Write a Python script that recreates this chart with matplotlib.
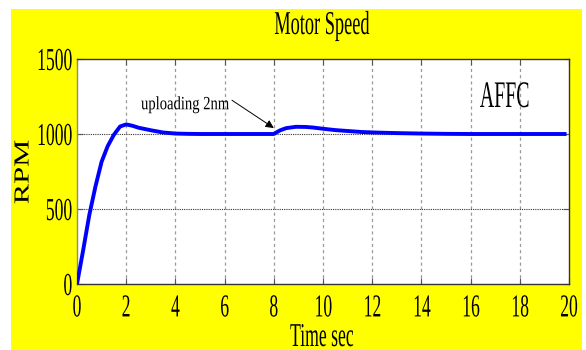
import matplotlib
matplotlib.use("Agg")
import matplotlib.pyplot as plt
from matplotlib import patheffects
from matplotlib.patches import Rectangle
from matplotlib.transforms import Affine2D

# Motor speed response (AFFC controller), load applied at t = 8 s
time_s = [0.0, 0.25, 0.5, 0.75, 1.0, 1.25, 1.5, 1.75, 2.0, 2.25, 2.5, 3.0,
          3.5, 4.0, 4.5, 5.0, 6.0, 7.0, 8.0, 8.1, 8.25, 8.5, 8.9, 9.3, 9.6,
          10.0, 10.5, 11.0, 11.6, 12.3, 13.0, 14.0, 15.0, 16.0, 17.0, 18.0,
          19.0, 19.9]
speed_rpm = [0, 225, 460, 650, 815, 920, 995, 1050, 1064, 1055, 1042, 1025,
             1010, 1003, 1001, 1000, 1000, 1000, 1000, 1010, 1024, 1039, 1048,
             1047, 1043, 1035, 1026, 1020, 1013, 1009, 1006, 1003, 1001, 1000,
             1000, 1000, 1000, 1000]

x_ticks = list(range(0, 21, 2))
y_ticks = [0, 500, 1000, 1500]
title_text = "Motor Speed"
x_label = "Time sec"
y_label = "RPM"
note_text = "uploading 2nm"
note_xy = (4.4, 1165)
arrow_tail = (6.3, 1225)
arrow_tip = (8.0, 1040)
tag_text = "AFFC"
tag_xy = (17.4, 1180)

plt.rcParams["font.family"] = ["Liberation Serif", "DejaVu Serif"]


class Squeeze(patheffects.AbstractPathEffect):
    """Draw glyphs narrowed along the screen x axis about a pivot."""

    def __init__(self, sx, anchor="center"):
        super().__init__()
        self.sx = sx
        self.anchor = anchor

    def draw_path(self, renderer, gc, tpath, affine, rgbFace=None):
        ext = tpath.get_extents(affine)
        px = {"left": ext.x0, "center": 0.5 * (ext.x0 + ext.x1),
              "right": ext.x1}[self.anchor]
        squeeze = Affine2D().translate(-px, 0).scale(self.sx, 1).translate(px, 0)
        renderer.draw_path(gc, tpath, affine + squeeze, rgbFace)


W, H = 586, 350
fig = plt.figure(figsize=(W / 100, H / 100), dpi=100, facecolor="white")

# yellow window panel
fig.add_artist(Rectangle((11 / W, 0), (582 - 11) / W, (350 - 9) / H,
                         transform=fig.transFigure, facecolor="#ffff00",
                         edgecolor="none", zorder=-10))

ax = fig.add_axes([77 / W, (H - 284) / H, (569 - 77) / W, (284 - 59) / H])
ax.set_facecolor("white")

ax.plot(time_s, speed_rpm, color="#0000ff", lw=2.8, solid_capstyle="butt",
        solid_joinstyle="round", zorder=3)

ax.set_xlim(0, 20)
ax.set_ylim(0, 1500)
ax.set_xticks(x_ticks)
ax.set_yticks(y_ticks)
ax.set_xticklabels([str(v) for v in x_ticks])
ax.set_yticklabels([str(v) for v in y_ticks])

for x in x_ticks[1:-1]:
    ax.axvline(x, color="#9a9a9a", lw=0.9, ls=(0, (2.5, 2.5)), zorder=1)
for y in y_ticks[1:-1]:
    ax.axhline(y, color="#333333", lw=0.8, ls=(0, (1, 1)), zorder=1)

ax.tick_params(axis="both", direction="in", length=4, width=0.8,
               colors="#555555", labelcolor="black", top=True, right=True,
               labelsize=23)
ax.tick_params(axis="x", pad=7.5)
ax.tick_params(axis="y", pad=3)
for sp in ax.spines.values():
    sp.set_color("#333333")
    sp.set_linewidth(1.0)
ax.spines["left"].set_color("#8a8a8a")

for t in ax.xaxis.get_major_ticks():
    t.label1.set_path_effects([Squeeze(0.55, "center")])
for t in ax.yaxis.get_major_ticks():
    t.label1.set_path_effects([Squeeze(0.55, "right")])

fig.text(322 / W, (H - 34) / H, title_text, ha="center", va="baseline",
         fontsize=24, path_effects=[Squeeze(0.55, "center")])
fig.text(322 / W, 4 / H, x_label, ha="center", va="baseline",
         fontsize=24, path_effects=[Squeeze(0.53, "center")])
fig.text(24 / W, (H - 172) / H, y_label, ha="center", va="center",
         rotation=90, fontsize=22, path_effects=[Squeeze(0.7, "center")])

ax.text(note_xy[0], note_xy[1], note_text, ha="center", va="baseline",
        fontsize=13.5, path_effects=[Squeeze(0.78, "center")], zorder=4)
ax.annotate("", xy=arrow_tip, xytext=arrow_tail,
            arrowprops=dict(arrowstyle="-|>", color="black", lw=0.7,
                            mutation_scale=12, shrinkA=0, shrinkB=0),
            zorder=4)
ax.text(tag_xy[0], tag_xy[1], tag_text, ha="center", va="baseline",
        fontsize=27, path_effects=[Squeeze(0.53, "center")], zorder=4)

fig.savefig("out.png", dpi=100, facecolor="white")
